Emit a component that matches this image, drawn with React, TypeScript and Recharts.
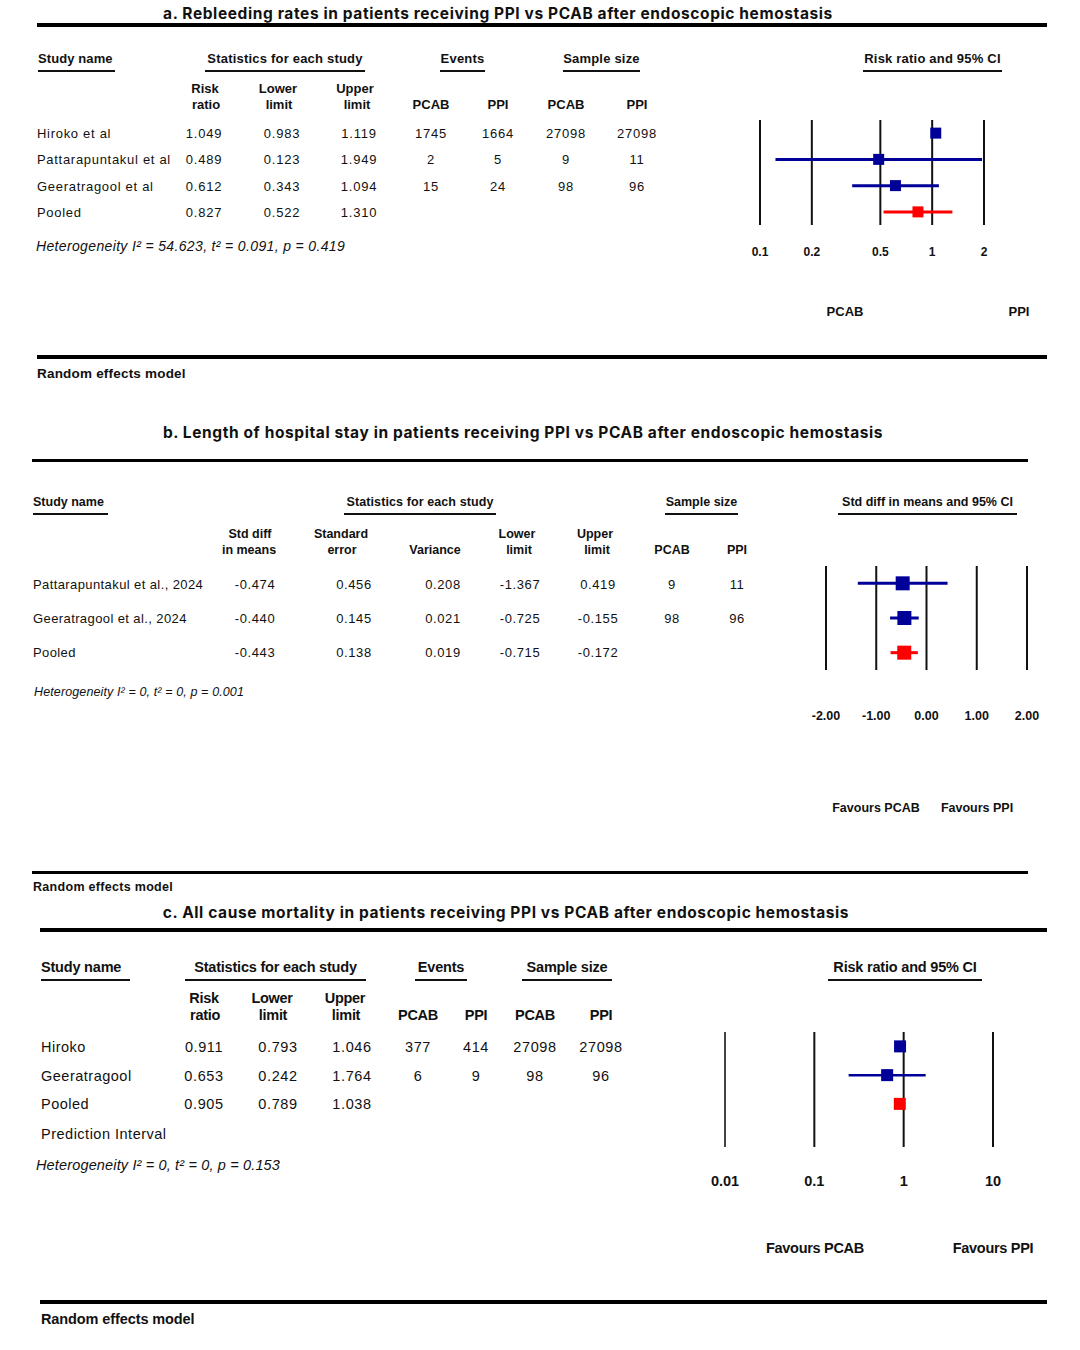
import React from 'react';
import { ScatterChart, Scatter, XAxis, YAxis, ErrorBar, ReferenceLine } from 'recharts';

// ---- a. Rebleeding ----
const studiesA = ['Hiroko et al', 'Pattarapuntakul et al', 'Geeratragool et al', 'Pooled'];
const rrA = [1.049, 0.489, 0.612, 0.827];
const lowA = [0.983, 0.123, 0.343, 0.522];
const highA = [1.119, 1.949, 1.094, 1.31];
const evPcabA = ['1745', '2', '15', ''];
const evPpiA = ['1664', '5', '24', ''];
const nPcabA = ['27098', '9', '98', ''];
const nPpiA = ['27098', '11', '96', ''];
const ticksA = [0.1, 0.2, 0.5, 1, 2];
const tickLabelsA = ['0.1', '0.2', '0.5', '1', '2'];

// ---- b. Length of stay ----
const studiesB = ['Pattarapuntakul et al., 2024', 'Geeratragool et al., 2024', 'Pooled'];
const smdB = [-0.474, -0.44, -0.443];
const seB = [0.456, 0.145, 0.138];
const varB = [0.208, 0.021, 0.019];
const lowB = [-1.367, -0.725, -0.715];
const highB = [0.419, -0.155, -0.172];
const nPcabB = ['9', '98', ''];
const nPpiB = ['11', '96', ''];
const ticksB = [-2, -1, 0, 1, 2];
const tickLabelsB = ['-2.00', '-1.00', '0.00', '1.00', '2.00'];

// ---- c. Mortality ----
const studiesC = ['Hiroko', 'Geeratragool', 'Pooled', 'Prediction Interval'];
const rrC = [0.911, 0.653, 0.905];
const lowC = [0.793, 0.242, 0.789];
const highC = [1.046, 1.764, 1.038];
const evPcabC = ['377', '6', ''];
const evPpiC = ['414', '9', ''];
const nPcabC = ['27098', '98', ''];
const nPpiC = ['27098', '96', ''];
const ticksC = [0.01, 0.1, 1, 10];
const tickLabelsC = ['0.01', '0.1', '1', '10'];

const NAVY = '#000099';
const RED = '#ff0000';
const SANS = '"Liberation Sans", Arial, sans-serif';
const TITLE = 'Inter, "Noto Sans", sans-serif';

type TxtProps = {
  x: number; y: number; children: React.ReactNode;
  anchor?: 'start' | 'middle' | 'end'; size?: number; bold?: boolean; italic?: boolean;
  ls?: number; font?: string;
};

function Txt({ x, y, children, anchor = 'start', size = 13, bold, italic, ls = 0, font = SANS }: TxtProps) {
  const tx = anchor === 'start' ? '0' : anchor === 'middle' ? '-50%' : '-100%';
  return (
    <div style={{
      position: 'absolute', left: x, top: y, transform: `translate(${tx}, -50%)`,
      whiteSpace: 'nowrap', lineHeight: 1, fontSize: size, fontFamily: font,
      fontWeight: bold ? 700 : 400, fontStyle: italic ? 'italic' : 'normal', letterSpacing: ls, color: '#111',
    }}>{children}</div>
  );
}

// underlined column header; x0..x1 is the underline extent
function Head({ x0, x1, y, text, size, left, ls = 0 }: { x0: number; x1: number; y: number; text: string; size: number; left?: boolean; ls?: number }) {
  return (
    <div style={{
      position: 'absolute', left: x0, width: x1 - x0, top: y - size / 2 - 1, height: size + 6,
      borderBottom: '2px solid #111', textAlign: left ? 'left' : 'center', whiteSpace: 'nowrap',
      fontFamily: SANS, fontWeight: 700, fontSize: size, lineHeight: `${size + 2}px`, letterSpacing: ls, color: '#111',
    }}>{text}</div>
  );
}

function Rule({ x, y, w, h }: { x: number; y: number; w: number; h: number }) {
  return <div style={{ position: 'absolute', left: x, top: y, width: w, height: h, background: '#000' }} />;
}

type Pt = { x: number; y: number; err: [number, number] };

function toPoints(est: number[], low: number[], high: number[]): Pt[] {
  return est.map((e, i) => ({ x: e, y: i, err: [e - low[i], high[i] - e] as [number, number] }));
}

type ForestProps = {
  x0: number; x1: number; top: number; bottom: number; slots: number;
  studies: Pt[]; pooled: Pt[]; ticks: number[]; labels: string[]; log?: boolean;
  labelOffset: number; labelSize: number; sq: number; ci: number; lineW: number;
};

function Forest({ x0, x1, top, bottom, slots, studies, pooled, ticks, labels, log, labelOffset, labelSize, sq, ci, lineW }: ForestProps) {
  const pad = 30;
  const plotH = bottom - top;
  const square = (fill: string) => (p: any) => (
    <rect x={p.cx - sq / 2} y={p.cy - sq / 2} width={sq} height={sq} fill={fill} />
  );
  const tick = (p: any) => {
    const i = ticks.indexOf(p.payload.value);
    return (
      <text x={p.x} y={p.y + labelOffset} textAnchor="middle" dominantBaseline="central"
        fontFamily={SANS} fontWeight={700} fontSize={labelSize} fill="#111">{labels[i]}</text>
    );
  };
  return (
    <div style={{ position: 'absolute', left: x0 - pad, top }}>
      <ScatterChart width={x1 - x0 + pad * 2} height={plotH + 70} margin={{ top: 0, right: pad, bottom: 0, left: pad }}>
        <XAxis type="number" dataKey="x" scale={log ? 'log' : 'linear'} domain={[ticks[0], ticks[ticks.length - 1]]}
          ticks={ticks} interval={0} allowDataOverflow axisLine={false} tickLine={false} tickSize={0} tickMargin={0}
          height={70} tick={tick} />
        <YAxis type="number" dataKey="y" domain={[-0.5, slots - 0.5]} reversed hide allowDataOverflow />
        {ticks.map((t, i) => (
          <ReferenceLine key={t} x={t} stroke={log && i === 0 && ticks[0] === 0.01 ? '#444' : '#111'} strokeWidth={lineW} />
        ))}
        <Scatter data={studies} shape={square(NAVY)} isAnimationActive={false}>
          <ErrorBar dataKey="err" direction="x" width={0} stroke={NAVY} strokeWidth={ci} isAnimationActive={false} />
        </Scatter>
        <Scatter data={pooled} shape={square(RED)} isAnimationActive={false}>
          <ErrorBar dataKey="err" direction="x" width={0} stroke={RED} strokeWidth={ci} isAnimationActive={false} />
        </Scatter>
      </ScatterChart>
    </div>
  );
}

const f3 = (v: number) => v.toFixed(3);

export default function App() {
  const ptsA = toPoints(rrA, lowA, highA);
  const ptsB = toPoints(smdB, lowB, highB);
  const ptsC = toPoints(rrC, lowC, highC);
  const rowsA = [133, 159, 186, 212];
  const rowsB = [584, 618, 652];
  const rowsC = [1047, 1076, 1104, 1134];

  return (
    <div style={{ position: 'absolute', left: 0, top: 0, width: 1080, height: 1350, background: '#fff', overflow: 'hidden' }}>
      {/* ===== Panel a ===== */}
      <Txt x={498} y={14} anchor="middle" size={15.5} bold font={TITLE} ls={0.6}>
        a. Rebleeding rates in patients receiving PPI vs PCAB after endoscopic hemostasis
      </Txt>
      <Rule x={37} y={23} w={1010} h={4} />
      <Head x0={38} x1={115} y={58} text="Study name" size={13} left ls={0.1} />
      <Head x0={205} x1={365} y={58} text="Statistics for each study" size={13} ls={0.2} />
      <Head x0={440} x1={485} y={58} text="Events" size={13} ls={0.2} />
      <Head x0={563} x1={640} y={58} text="Sample size" size={13} ls={0.2} />
      <Head x0={863} x1={1002} y={58} text="Risk ratio and 95% CI" size={13} ls={0.2} />
      <Txt x={205} y={88} anchor="middle" bold>Risk</Txt>
      <Txt x={206} y={104} anchor="middle" bold>ratio</Txt>
      <Txt x={278} y={88} anchor="middle" bold>Lower</Txt>
      <Txt x={279} y={104} anchor="middle" bold>limit</Txt>
      <Txt x={355} y={88} anchor="middle" bold>Upper</Txt>
      <Txt x={357} y={104} anchor="middle" bold>limit</Txt>
      <Txt x={431} y={104} anchor="middle" bold>PCAB</Txt>
      <Txt x={498} y={104} anchor="middle" bold>PPI</Txt>
      <Txt x={566} y={104} anchor="middle" bold>PCAB</Txt>
      <Txt x={637} y={104} anchor="middle" bold>PPI</Txt>
      {studiesA.map((s, i) => (
        <React.Fragment key={s}>
          <Txt x={37} y={rowsA[i]} ls={0.7}>{s}</Txt>
          <Txt x={204} y={rowsA[i]} anchor="middle" ls={0.8}>{f3(rrA[i])}</Txt>
          <Txt x={282} y={rowsA[i]} anchor="middle" ls={0.8}>{f3(lowA[i])}</Txt>
          <Txt x={359} y={rowsA[i]} anchor="middle" ls={0.8}>{f3(highA[i])}</Txt>
          <Txt x={431} y={rowsA[i]} anchor="middle" ls={0.8}>{evPcabA[i]}</Txt>
          <Txt x={498} y={rowsA[i]} anchor="middle" ls={0.8}>{evPpiA[i]}</Txt>
          <Txt x={566} y={rowsA[i]} anchor="middle" ls={0.8}>{nPcabA[i]}</Txt>
          <Txt x={637} y={rowsA[i]} anchor="middle" ls={0.8}>{nPpiA[i]}</Txt>
        </React.Fragment>
      ))}
      <Txt x={36} y={246} size={14} italic ls={0.35}>Heterogeneity I² = 54.623, t² = 0.091, p = 0.419</Txt>
      <Forest x0={760} x1={984} top={120} bottom={225} slots={4}
        studies={ptsA.slice(0, 3)} pooled={ptsA.slice(3)} ticks={ticksA} labels={tickLabelsA} log
        labelOffset={27} labelSize={12} sq={11} ci={3} lineW={2} />
      <Txt x={845} y={311} anchor="middle" bold>PCAB</Txt>
      <Txt x={1019} y={311} anchor="middle" bold>PPI</Txt>
      <Rule x={37} y={355} w={1010} h={4} />
      <Txt x={37} y={374} size={13.5} bold ls={0.2}>Random effects model</Txt>

      {/* ===== Panel b ===== */}
      <Txt x={523} y={433} anchor="middle" size={15.5} bold font={TITLE} ls={0.6}>
        b. Length of hospital stay in patients receiving PPI vs PCAB after endoscopic hemostasis
      </Txt>
      <Rule x={32} y={459} w={996} h={3} />
      <Head x0={33} x1={108} y={502} text="Study name" size={12.5} left />
      <Head x0={344} x1={496} y={502} text="Statistics for each study" size={12.5} ls={0.1} />
      <Head x0={665} x1={738} y={502} text="Sample size" size={12.5} />
      <Head x0={838} x1={1017} y={502} text="Std diff in means and 95% CI" size={12.5} />
      <Txt x={250} y={534} anchor="middle" size={12.5} bold>Std diff</Txt>
      <Txt x={249} y={550} anchor="middle" size={12.5} bold>in means</Txt>
      <Txt x={341} y={534} anchor="middle" size={12.5} bold>Standard</Txt>
      <Txt x={342} y={550} anchor="middle" size={12.5} bold>error</Txt>
      <Txt x={435} y={550} anchor="middle" size={12.5} bold>Variance</Txt>
      <Txt x={517} y={534} anchor="middle" size={12.5} bold>Lower</Txt>
      <Txt x={519} y={550} anchor="middle" size={12.5} bold>limit</Txt>
      <Txt x={595} y={534} anchor="middle" size={12.5} bold>Upper</Txt>
      <Txt x={597} y={550} anchor="middle" size={12.5} bold>limit</Txt>
      <Txt x={672} y={550} anchor="middle" size={12.5} bold>PCAB</Txt>
      <Txt x={737} y={550} anchor="middle" size={12.5} bold>PPI</Txt>
      {studiesB.map((s, i) => (
        <React.Fragment key={s}>
          <Txt x={33} y={rowsB[i]} ls={0.4}>{s}</Txt>
          <Txt x={255} y={rowsB[i]} anchor="middle" ls={0.6}>{f3(smdB[i])}</Txt>
          <Txt x={354} y={rowsB[i]} anchor="middle" ls={0.6}>{f3(seB[i])}</Txt>
          <Txt x={443} y={rowsB[i]} anchor="middle" ls={0.6}>{f3(varB[i])}</Txt>
          <Txt x={520} y={rowsB[i]} anchor="middle" ls={0.6}>{f3(lowB[i])}</Txt>
          <Txt x={598} y={rowsB[i]} anchor="middle" ls={0.6}>{f3(highB[i])}</Txt>
          <Txt x={672} y={rowsB[i]} anchor="middle" ls={0.6}>{nPcabB[i]}</Txt>
          <Txt x={737} y={rowsB[i]} anchor="middle" ls={0.6}>{nPpiB[i]}</Txt>
        </React.Fragment>
      ))}
      <Txt x={34} y={692} size={12.5} italic ls={0.12}>Heterogeneity I² = 0, t² = 0, p = 0.001</Txt>
      <Forest x0={826} x1={1027} top={566} bottom={670} slots={3}
        studies={ptsB.slice(0, 2)} pooled={ptsB.slice(2)} ticks={ticksB} labels={tickLabelsB}
        labelOffset={46} labelSize={12.5} sq={14} ci={3} lineW={2} />
      <Txt x={876} y={808} anchor="middle" size={12.5} bold>Favours PCAB</Txt>
      <Txt x={977} y={808} anchor="middle" size={12.5} bold>Favours PPI</Txt>
      <Rule x={32} y={871} w={996} h={3} />
      <Txt x={33} y={887} size={12.5} bold ls={0.3}>Random effects model</Txt>

      {/* ===== Panel c ===== */}
      <Txt x={506} y={913} anchor="middle" size={15.5} bold font={TITLE} ls={0.6}>
        c. All cause mortality in patients receiving PPI vs PCAB after endoscopic hemostasis
      </Txt>
      <Rule x={40} y={928} w={1007} h={4} />
      <Head x0={41} x1={130} y={967} text="Study name" size={14.5} left ls={-0.2} />
      <Head x0={185} x1={366} y={967} text="Statistics for each study" size={14.5} ls={-0.2} />
      <Head x0={415} x1={467} y={967} text="Events" size={14.5} ls={-0.2} />
      <Head x0={522} x1={612} y={967} text="Sample size" size={14.5} ls={-0.2} />
      <Head x0={828} x1={982} y={967} text="Risk ratio and 95% CI" size={14.5} ls={-0.2} />
      <Txt x={204} y={998} anchor="middle" size={14.5} bold ls={-0.3}>Risk</Txt>
      <Txt x={205} y={1015} anchor="middle" size={14.5} bold ls={-0.3}>ratio</Txt>
      <Txt x={272} y={998} anchor="middle" size={14.5} bold ls={-0.3}>Lower</Txt>
      <Txt x={273} y={1015} anchor="middle" size={14.5} bold ls={-0.3}>limit</Txt>
      <Txt x={345} y={998} anchor="middle" size={14.5} bold ls={-0.3}>Upper</Txt>
      <Txt x={346} y={1015} anchor="middle" size={14.5} bold ls={-0.3}>limit</Txt>
      <Txt x={418} y={1015} anchor="middle" size={14.5} bold ls={-0.3}>PCAB</Txt>
      <Txt x={476} y={1015} anchor="middle" size={14.5} bold ls={-0.3}>PPI</Txt>
      <Txt x={535} y={1015} anchor="middle" size={14.5} bold ls={-0.3}>PCAB</Txt>
      <Txt x={601} y={1015} anchor="middle" size={14.5} bold ls={-0.3}>PPI</Txt>
      {studiesC.map((s, i) => (
        <React.Fragment key={s}>
          <Txt x={41} y={rowsC[i]} size={14.5} ls={0.5}>{s}</Txt>
          {i < rrC.length && (
            <>
              <Txt x={204} y={rowsC[i]} anchor="middle" size={14.5} ls={0.6}>{f3(rrC[i])}</Txt>
              <Txt x={278} y={rowsC[i]} anchor="middle" size={14.5} ls={0.6}>{f3(lowC[i])}</Txt>
              <Txt x={352} y={rowsC[i]} anchor="middle" size={14.5} ls={0.6}>{f3(highC[i])}</Txt>
              <Txt x={418} y={rowsC[i]} anchor="middle" size={14.5} ls={0.6}>{evPcabC[i]}</Txt>
              <Txt x={476} y={rowsC[i]} anchor="middle" size={14.5} ls={0.6}>{evPpiC[i]}</Txt>
              <Txt x={535} y={rowsC[i]} anchor="middle" size={14.5} ls={0.6}>{nPcabC[i]}</Txt>
              <Txt x={601} y={rowsC[i]} anchor="middle" size={14.5} ls={0.6}>{nPpiC[i]}</Txt>
            </>
          )}
        </React.Fragment>
      ))}
      <Txt x={36} y={1165} size={14.5} italic ls={0.15}>Heterogeneity I² = 0, t² = 0, p = 0.153</Txt>
      <Forest x0={725} x1={993} top={1032} bottom={1147} slots={4}
        studies={ptsC.slice(0, 2)} pooled={ptsC.slice(2)} ticks={ticksC} labels={tickLabelsC} log
        labelOffset={34} labelSize={14.5} sq={12} ci={2.5} lineW={2} />
      <Txt x={815} y={1248} anchor="middle" size={14.5} bold ls={-0.3}>Favours PCAB</Txt>
      <Txt x={993} y={1248} anchor="middle" size={14.5} bold ls={-0.3}>Favours PPI</Txt>
      <Rule x={40} y={1300} w={1007} h={4} />
      <Txt x={41} y={1319} size={14.5} bold ls={-0.1}>Random effects model</Txt>
    </div>
  );
}
